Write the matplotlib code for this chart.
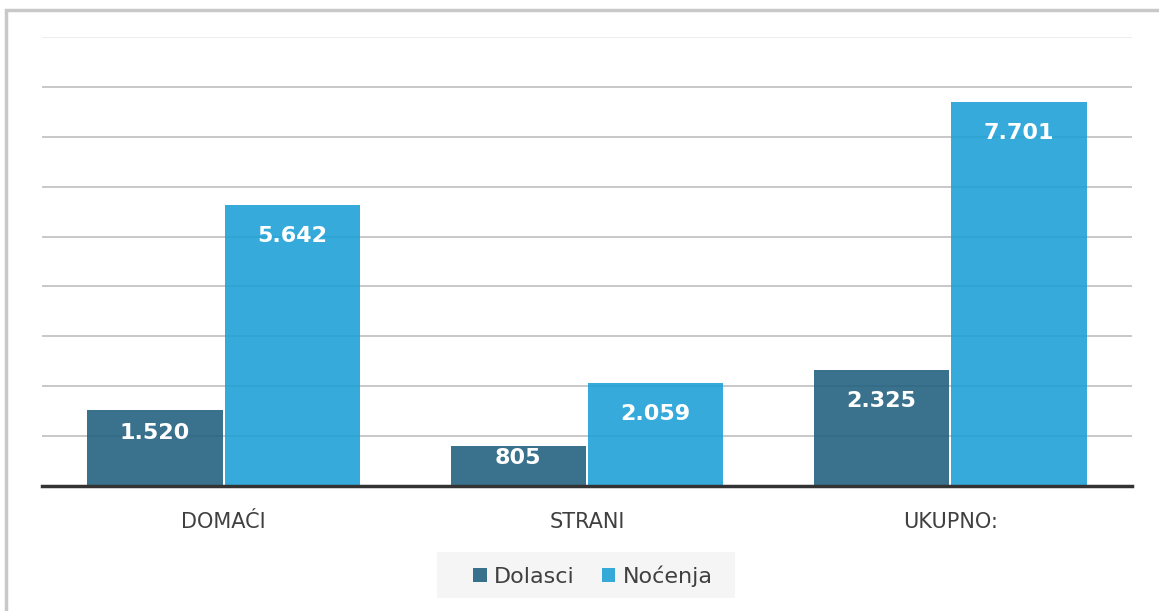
import matplotlib.pyplot as plt
import numpy as np
from matplotlib.patches import Rectangle

categories = ["DOMAĆI", "STRANI", "UKUPNO:"]
series_names = ["Dolasci", "Noćenja"]
dolasci = [1520, 805, 2325]
nocenja = [5642, 2059, 7701]
value_labels = [["1.520", "805", "2.325"], ["5.642", "2.059", "7.701"]]

colors = ["#1f5f7f", "#1aa0d6"]

W, H = 1159, 611
fig = plt.figure(figsize=(W / 100, H / 100), dpi=100)
ax = fig.add_axes([0.0362, 0.2046, 0.9405, 0.7349])

# outer frame
fig.patches.append(Rectangle((0.005, -0.02), 1.1, 1.003, transform=fig.transFigure,
                             fill=False, edgecolor="#c8c8c8", linewidth=2.5))
# legend background box
fig.patches.append(Rectangle((437 / W, 1 - 598 / H), 298 / W, 46 / H, transform=fig.transFigure,
                             facecolor="#f5f5f5", edgecolor="none", zorder=0))

x = np.arange(len(categories))
w = 0.372
px = 9000 / 449.0  # data units per pixel
for i, vals in enumerate([dolasci, nocenja]):
    pos = x + (i - 0.5) * w + (i - 0.5) * 0.006
    ax.bar(pos, vals, width=w, color=colors[i], alpha=0.88, label=series_names[i], zorder=3)
    for p, v, lab in zip(pos, vals, value_labels[i]):
        off = min(31 * px, 0.3 * v)
        ax.text(p, v - off, lab, ha="center", va="center", color="white",
                fontsize=16, fontweight="bold", family="DejaVu Sans", zorder=4)

ax.set_xlim(-0.5, 2.5)
ax.set_ylim(0, 9000)
ax.set_yticks(np.arange(1000, 9001, 1000))
ax.yaxis.grid(True, color="#c4c4c4", linewidth=1.3, zorder=0)
ax.set_axisbelow(True)
ax.tick_params(axis="y", left=False, labelleft=False)
ax.tick_params(axis="x", bottom=False, labelsize=15, labelcolor="#404040", pad=15)
ax.set_xticks(x)
ax.set_xticklabels(categories, family="DejaVu Sans")
for s in ["top", "right", "left"]:
    ax.spines[s].set_visible(False)
ax.spines["bottom"].set_color("#333333")
ax.spines["bottom"].set_linewidth(2.5)
ax.spines["bottom"].set_zorder(5)
ax.get_ygridlines()[-1].set_color("#ececec")

leg = fig.legend(*ax.get_legend_handles_labels(), loc="center",
                 bbox_to_anchor=(593 / W, 1 - 576 / H), ncol=2, frameon=False,
                 handlelength=0.6, handleheight=0.6, handletextpad=0.35,
                 columnspacing=1.2, borderpad=0.2, prop={"family": "DejaVu Sans", "size": 16})
for t in leg.get_texts():
    t.set_color("#404040")

fig.savefig("out.png", dpi=100)
